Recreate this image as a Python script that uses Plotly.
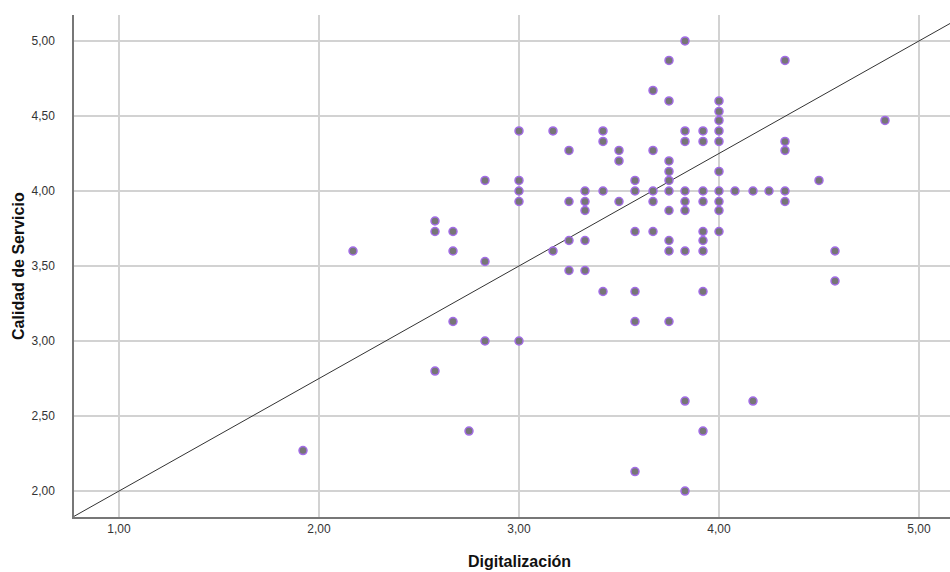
import plotly.graph_objects as go

# Digitalización (x) and Calidad de Servicio (y) values
digitalizacion = (
    [1.92, 2.17]
    + [2.58] * 3 + [2.67] * 3 + [2.75] + [2.83] * 3
    + [3.00] * 5 + [3.17] * 2 + [3.25] * 4 + [3.33] * 5 + [3.42] * 4 + [3.50] * 3
    + [3.58] * 6 + [3.67] * 5 + [3.75] * 10 + [3.83] * 9 + [3.92] * 9 + [4.00] * 10
    + [4.08] + [4.17] * 2 + [4.25] + [4.33] * 5 + [4.50] + [4.58] * 2 + [4.83]
)
calidad = (
    [2.27, 3.60]
    + [3.80, 3.73, 2.80]
    + [3.73, 3.60, 3.13]
    + [2.40]
    + [4.07, 3.53, 3.00]
    + [4.40, 4.07, 4.00, 3.93, 3.00]
    + [4.40, 3.60]
    + [4.27, 3.93, 3.67, 3.47]
    + [4.00, 3.93, 3.87, 3.67, 3.47]
    + [4.40, 4.33, 4.00, 3.33]
    + [4.27, 4.20, 3.93]
    + [4.07, 4.00, 3.73, 3.33, 3.13, 2.13]
    + [4.67, 4.27, 4.00, 3.93, 3.73]
    + [4.87, 4.60, 4.20, 4.13, 4.07, 4.00, 3.87, 3.67, 3.60, 3.13]
    + [5.00, 4.40, 4.33, 4.00, 3.93, 3.87, 3.60, 2.60, 2.00]
    + [4.40, 4.33, 4.00, 3.93, 3.73, 3.67, 3.60, 3.33, 2.40]
    + [4.60, 4.53, 4.47, 4.40, 4.33, 4.13, 4.00, 3.93, 3.87, 3.73]
    + [4.00]
    + [4.00, 2.60]
    + [4.00]
    + [4.87, 4.33, 4.27, 4.00, 3.93]
    + [4.07]
    + [3.60, 3.40]
    + [4.47]
)

# reference line y = intercept + slope * x
line_intercept = 1.25
line_slope = 0.75

x_range = [0.775, 5.155]
y_range = [1.827, 5.173]
tick_vals_x = [1, 2, 3, 4, 5]
tick_vals_y = [2.0, 2.5, 3.0, 3.5, 4.0, 4.5, 5.0]

fig = go.Figure()
fig.add_trace(go.Scatter(
    x=x_range,
    y=[line_intercept + line_slope * v for v in x_range],
    mode="lines",
    line=dict(color="#333333", width=1),
    hoverinfo="skip",
    showlegend=False,
))
fig.add_trace(go.Scatter(
    x=digitalizacion, y=calidad, mode="markers",
    marker=dict(size=8, color="#767676", line=dict(color="#a36ce8", width=1.5)),
    showlegend=False,
))

axis_common = dict(
    showgrid=True, gridcolor="#d2d2d2", gridwidth=1.5,
    zeroline=False, showline=True, linecolor="#777777", linewidth=1.5,
    ticks="", tickformat=".2f",
    tickfont=dict(family="Liberation Sans", size=12, color="#333333"),
)
fig.update_xaxes(range=x_range, tickvals=tick_vals_x, **axis_common)
fig.update_yaxes(range=y_range, tickvals=tick_vals_y, ticklabelstandoff=15, **axis_common)

fig.update_layout(
    width=950, height=572,
    margin=dict(l=74, r=0, t=15, b=55),
    plot_bgcolor="white", paper_bgcolor="white",
    separators=",.",
    annotations=[
        dict(text="<b>Digitalización</b>", xref="paper", yref="paper",
             x=0.508, y=-0.0896, xanchor="center", yanchor="middle", showarrow=False,
             font=dict(family="Liberation Sans", size=16, color="#111111")),
        dict(text="<b>Calidad de Servicio</b>", xref="paper", yref="paper",
             x=-0.064, y=0.5, xanchor="center", yanchor="middle", showarrow=False,
             textangle=-90,
             font=dict(family="Liberation Sans", size=16, color="#111111")),
    ],
)

fig.write_html(
    "out.html",
    config={"displayModeBar": False},
    post_script="document.body.style.margin='0';document.body.style.overflow='hidden';",
)
